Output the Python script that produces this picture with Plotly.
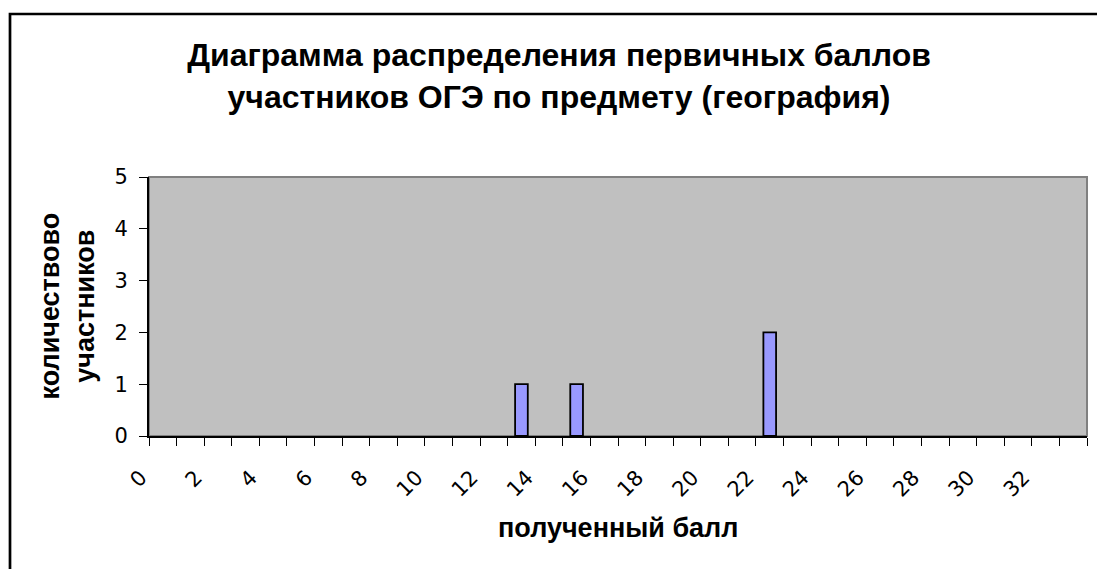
import plotly.graph_objects as go

scores = [0, 1, 2, 3, 4, 5, 6, 7, 8, 9, 10, 11, 12, 13, 14, 15, 16,
          17, 18, 19, 20, 21, 22, 23, 24, 25, 26, 27, 28, 29, 30, 31, 32, 33]
counts = [0, 0, 0, 0, 0, 0, 0, 0, 0, 0, 0, 0, 0, 1, 0, 1, 0,
          0, 0, 0, 0, 0, 2, 0, 0, 0, 0, 0, 0, 0, 0, 0, 0, 0]
tick_vals = [0, 2, 4, 6, 8, 10, 12, 14, 16, 18, 20, 22, 24, 26, 28, 30, 32]
tick_text = ["0", "2", "4", "6", "8", "10", "12", "14", "16", "18", "20",
             "22", "24", "26", "28", "30", "32"]
y_ticks = [0, 1, 2, 3, 4, 5]

title_text = "Диаграмма распределения первичных баллов<br>участников ОГЭ по предмету (география)"
x_title = "полученный балл"
y_title = "количествово<br>участников"

FONT = "Liberation Sans, Arial, sans-serif"
TICKFONT = "DejaVu Sans, Liberation Sans, sans-serif"

W, H = 1097, 569
L, R, T, B = 149, 10, 177, 133
pw, ph = W - L - R, H - T - B

fig = go.Figure()
fig.add_trace(go.Bar(
    x=scores, y=counts, width=0.46,
    marker=dict(color="#9999FF",
                line=dict(color="black", width=[1.8 if c else 0 for c in counts])),
))

boundaries = [s - 0.5 for s in scores] + [scores[-1] + 0.5]

fig.update_layout(
    width=W, height=H,
    margin=dict(l=L, r=R, t=T, b=B, pad=0),
    paper_bgcolor="white", plot_bgcolor="#C0C0C0",
    showlegend=False,
    font=dict(family=FONT, color="black"),
    title=dict(text=title_text, x=559 / W, xanchor="center", y=1 - 66 / H, yanchor="top",
               font=dict(family=FONT, size=32, color="black", weight="bold")),
    xaxis=dict(
        range=[-0.5, 33.5], showgrid=False, zeroline=False,
        showline=True, linecolor="black", linewidth=2,
        tickmode="array", tickvals=tick_vals, ticktext=tick_text,
        ticks="", tickangle=-45, tickfont=dict(family=TICKFONT, size=21),
        ticklabelshift=-22, ticklabelstandoff=19,
        minor=dict(tickmode="array", tickvals=boundaries, ticks="outside",
                   ticklen=8, tickcolor="black", tickwidth=1),
    ),
    yaxis=dict(
        range=[0, 5], showgrid=False, zeroline=False,
        showline=True, linecolor="black", linewidth=2,
        tickmode="array", tickvals=y_ticks,
        ticks="outside", ticklen=8, tickcolor="black", tickwidth=1,
        tickfont=dict(family=TICKFONT, size=21), ticklabelstandoff=7,
    ),
    annotations=[
        dict(text=x_title, xref="paper", yref="paper", x=(618 - L) / pw,
             y=-(528 - T - ph) / ph, xanchor="center", yanchor="middle",
             showarrow=False, font=dict(family=FONT, size=27, weight="bold")),
        dict(text=y_title, xref="paper", yref="paper", x=(67 - L) / pw,
             y=0.5, xanchor="center", yanchor="middle", textangle=-90,
             showarrow=False, font=dict(family=FONT, size=27, weight="bold")),
    ],
    shapes=[
        dict(type="rect", xref="paper", yref="paper", x0=0, x1=1, y0=0, y1=1,
             line=dict(color="#808080", width=2), layer="below"),
        dict(type="rect", xref="paper", yref="paper",
             x0=(10 - L) / pw, x1=(W + 20 - L) / pw,
             y0=-(H + 20 - T - ph) / ph, y1=(T + ph - 14) / ph,
             line=dict(color="black", width=2.7), fillcolor="rgba(0,0,0,0)"),
    ],
)

fig.write_html("out.html", config={"displayModeBar": False},
               post_script="document.body.style.margin='0';")
